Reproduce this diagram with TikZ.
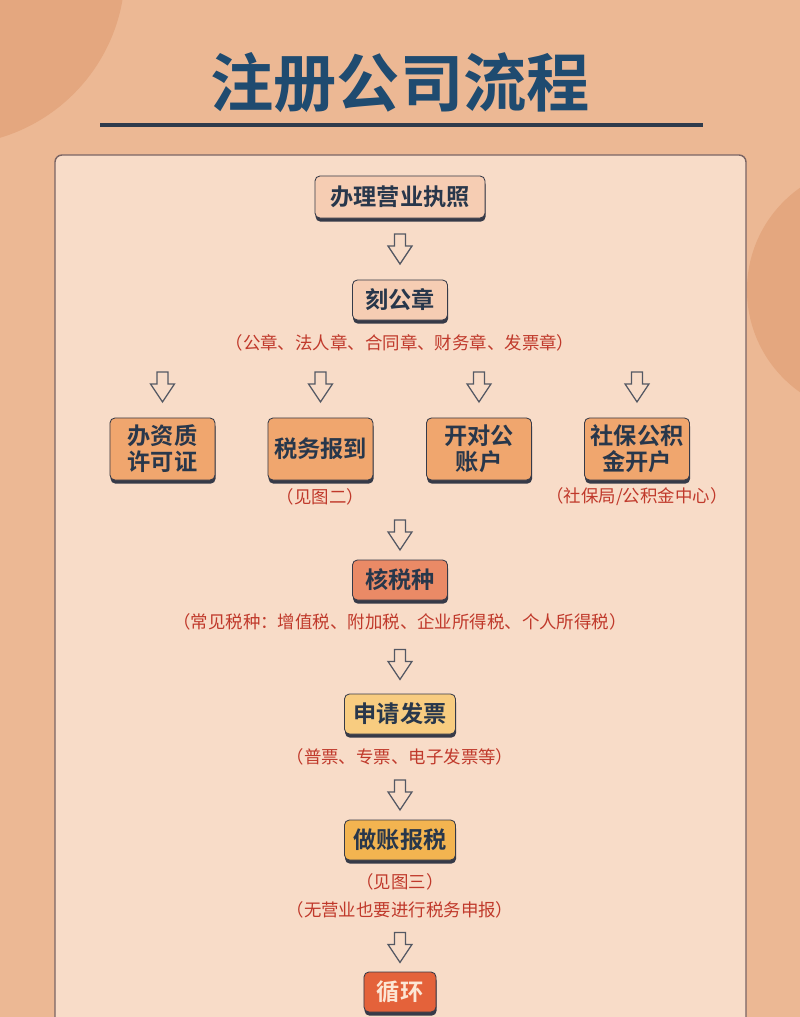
\documentclass[tikz,border=0pt]{standalone}
\usepackage{fontspec}
\setmainfont{Noto Sans CJK SC}[BoldFont={* Bold}]
\usepackage{xcolor}
\usetikzlibrary{calc,
	positioning,
	shadows}

\definecolor{bgpeach}{HTML}{ECB894}
\definecolor{bgcircle}{HTML}{E4A77F}
\definecolor{panelfill}{HTML}{F8DCC8}
\definecolor{paneledge}{HTML}{7A6464}
\definecolor{titleblue}{HTML}{1F4B70}
\definecolor{rulegray}{HTML}{2F3B4C}
\definecolor{boxtext}{HTML}{28374B}
\definecolor{boxedge}{HTML}{363A48}
\definecolor{notered}{HTML}{C0392B}
\definecolor{lightbox}{HTML}{F6CDB3}
\definecolor{orangebox}{HTML}{F0A66E}
\definecolor{salmonbox}{HTML}{EA8A66}
\definecolor{yellowbox}{HTML}{F8CC80}
\definecolor{amberbox}{HTML}{F3B450}
\definecolor{redbox}{HTML}{E4623A}
\definecolor{loopcream}{HTML}{FCE6D4}

\tikzset{
	stepbox/.style={draw=boxedge, line width=0.6pt, rounded corners=3.5pt,
		text=boxtext, font=\fontsize{16.5}{18.5}\selectfont\bfseries,
		align=center, inner sep=0pt,
		general shadow={fill=boxedge, shadow yshift=-2.6pt, shadow xshift=0.4pt}},
	subnote/.style={text=notered, font=\fontsize{12.4}{14}\selectfont},
	arrowline/.style={draw=boxedge!85, line width=0.9pt, line join=miter, fill=panelfill}
}

% hollow down arrow half way from #1 to #2
\newcommand{\flowarrow}[2]{%
	\coordinate (mid) at ($(#2)!0.5!(#2 |- #1)$);
	\draw[arrowline, shift={(mid)}] (-5.5,-15) -- (-5.5,-3) -- (-12,-3) -- (0,15)
		-- (12,-3) -- (5.5,-3) -- (5.5,-15) -- cycle;
}

\begin{document}
\begin{tikzpicture}[x=0.025cm, y=-0.025cm]
	\useasboundingbox (0,0) rectangle (800,1017);
	\begin{scope}
	\clip (0,0) rectangle (800,1017);
	% Background
	\fill[bgpeach] (0,0) rectangle (800,1017);
	\fill[bgcircle] (-50,-30) circle (4.375cm);
	\fill[bgcircle] (872,290) circle (3.125cm);
	\draw[paneledge, line width=1pt, fill=panelfill, rounded corners=5pt] (55,155) rectangle (746,1060);
	% /Background

	\node[text=titleblue, font=\fontsize{45}{50}\selectfont\bfseries] (title) at (400,83) {注册公司流程};
	\draw[rulegray, line width=2.2pt] (100,125) -- (703,125);

	\node[stepbox, fill=lightbox, minimum width=4.25cm, minimum height=1.05cm] (licence) at (400,197) {办理营业执照};
	\node[stepbox, fill=lightbox, minimum width=2.375cm, minimum height=1cm] (seal) at (400,300) {刻公章};
	\node[subnote] (sealnote) at (400,343) {（公章、法人章、合同章、财务章、发票章）};
	\flowarrow{licence.south}{seal.north}

	\foreach \name/\x/\txt in {permit/162.5/{办资质\\许可证}, taxreg/320.5/{税务报到},
		bank/479/{开对公\\账户}, fund/637/{社保公积\\金开户}} {
		\node[stepbox, fill=orangebox, minimum width=2.625cm, minimum height=1.55cm] (\name) at (\x,449) {\txt};
		\flowarrow{sealnote.south}{\name.north}
	}
	\node[subnote] (taxregnote) at (320.5,497) {（见图二）};
	\node[subnote] (fundnote) at (637,497) {（社保局/公积金中心）};

	\node[stepbox, fill=salmonbox, minimum width=2.375cm, minimum height=1cm] (taxtype) at (400,580) {核税种};
	\node[subnote] (taxtypenote) at (400,622) {（常见税种：增值税、附加税、企业所得税、个人所得税）};
	\flowarrow{taxregnote.south}{taxtype.north}

	\node[stepbox, fill=yellowbox, minimum width=2.775cm, minimum height=1cm] (invoice) at (400,714) {申请发票};
	\node[subnote] (invoicenote) at (400,757) {（普票、专票、电子发票等）};
	\flowarrow{taxtypenote.south}{invoice.north}

	\node[stepbox, fill=amberbox, minimum width=2.775cm, minimum height=1cm] (books) at (400,840) {做账报税};
	\node[subnote] (booksnote) at (400,882) {（见图三）};
	\node[subnote] (zeronote) at (400,910) {（无营业也要进行税务申报）};
	\flowarrow{invoicenote.south}{books.north}

	\node[stepbox, fill=redbox, text=loopcream, minimum width=1.8cm, minimum height=1cm] (cycle) at (400,992) {循环};
	\flowarrow{zeronote.south}{cycle.north}
	\end{scope}
\end{tikzpicture}
\end{document}
